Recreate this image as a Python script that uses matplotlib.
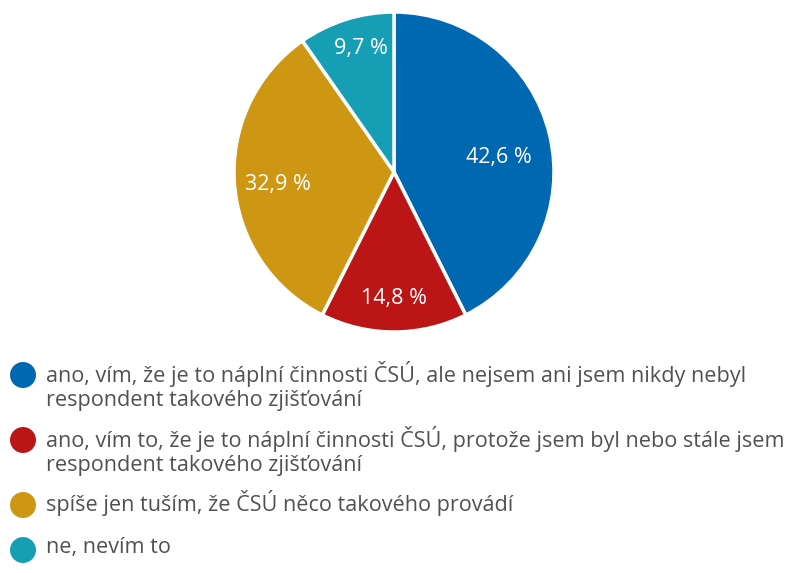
import matplotlib
matplotlib.use("Agg")
import matplotlib.pyplot as plt
import numpy as np

labels = [
    "ano, vím, že je to náplní činnosti ČSÚ, ale nejsem ani jsem nikdy nebyl\nrespondent takového zjišťování",
    "ano, vím to, že je to náplní činnosti ČSÚ, protože jsem byl nebo stále jsem\nrespondent takového zjišťování",
    "spíše jen tuším, že ČSÚ něco takového provádí",
    "ne, nevím to",
]
values = [42.6, 14.8, 32.9, 9.7]
value_texts = ["42,6 %", "14,8 %", "32,9 %", "9,7 %"]
colors = ["#0067B1", "#BC1515", "#CD9613", "#169EB5"]

plt.rcParams['font.family'] = ['Open Sans', 'DejaVu Sans']
W, H = 800, 573
fig = plt.figure(figsize=(W / 100, H / 100), dpi=100)

# pie axes
cx, cy, r = 394, 172, 160
ax = fig.add_axes([(cx - r) / W, (H - cy - r) / H, 2 * r / W, 2 * r / H])
wedges, _ = ax.pie(values, colors=colors, startangle=90, counterclock=False,
                   radius=1.0, wedgeprops=dict(edgecolor="white", linewidth=2.5))
ax.set_xlim(-1, 1)
ax.set_ylim(-1, 1)
ax.set_aspect("equal")
ax.axis("off")

label_r = [0.66, 0.79, 0.73, 0.80]
label_shift = [-5.5, 0, 2, -2.5]
for w, t, lr, sh in zip(wedges, value_texts, label_r, label_shift):
    ang = np.deg2rad((w.theta1 + w.theta2) / 2 + sh)
    ax.text(lr * np.cos(ang), lr * np.sin(ang), t, color="white",
            fontsize=15.5, ha="center", va="center")

# legend
lax = fig.add_axes([0, 0, 1, 1])
lax.set_xlim(0, W)
lax.set_ylim(H, 0)
lax.axis("off")
marker_y = [375, 440, 505, 550]
text_y = [386, 451, 503, 547]
for lab, c, my, ty in zip(labels, colors, marker_y, text_y):
    lax.scatter([23], [my], s=350, color=c, edgecolors="none")
    lax.text(46, ty, lab, color="#505152", fontsize=15.6, ha="left", va="center",
             linespacing=1.16)

fig.savefig("out.png", dpi=100, facecolor="white")
